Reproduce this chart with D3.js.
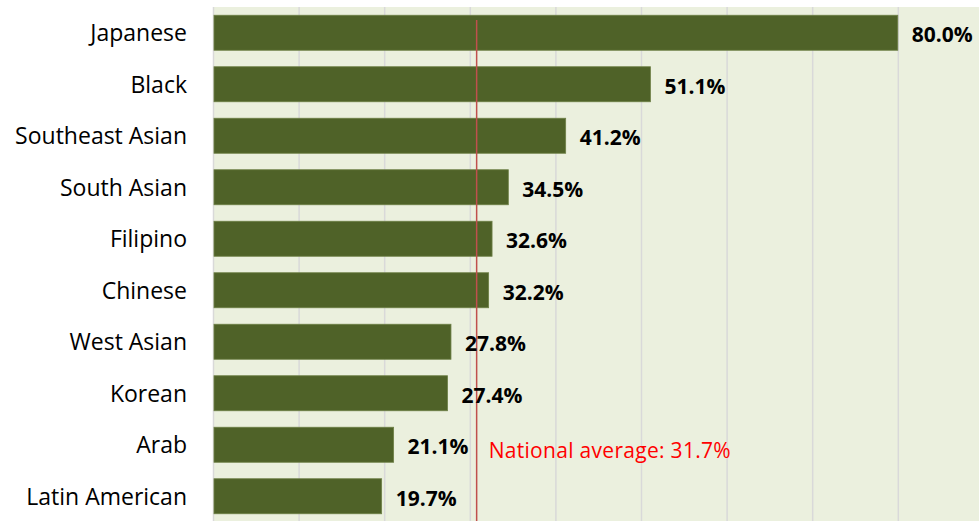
<!DOCTYPE html>
<html>
<head>
<meta charset="utf-8">
<script src="https://cdn.jsdelivr.net/npm/d3@7"></script>
<style>
  body { margin: 0; background: #fff; }
  svg { display: block; font-family: "Open Sans", "Noto Sans", sans-serif; }
</style>
</head>
<body>
<div id="chart"></div>
<script>
const groups = ["Japanese", "Black", "Southeast Asian", "South Asian", "Filipino",
    "Chinese", "West Asian", "Korean", "Arab", "Latin American"];
const shares = [80.0, 51.1, 41.2, 34.5, 32.6, 32.2, 27.8, 27.4, 21.1, 19.7];
const gridTicks = [0, 10, 20, 30, 40, 50, 60, 70, 80, 90];
const nationalAverage = 31.7;
const averageLineAt = 30.8; // where the red line sits in the picture

const width = 979;
const height = 521;
const margin = { top: 7, left: 213 };

const x = d3.scaleLinear()
    .domain([0, 10])
    .range([margin.left, margin.left + 85.6]);

const y = d3.scaleBand()
    .domain(groups)
    .range([margin.top, margin.top + 515])
    .paddingInner(0.32)
    .paddingOuter(0.16);

const svg = d3.select("#chart").append("svg")
    .attr("width", width)
    .attr("height", height);

// plot background
svg.append("rect")
    .attr("x", margin.left)
    .attr("y", margin.top)
    .attr("width", width - margin.left)
    .attr("height", height - margin.top)
    .attr("fill", "#ebf0de");

// vertical gridlines
svg.append("g")
    .selectAll("line")
    .data(gridTicks)
    .join("line")
    .attr("x1", d => x(d) + 0.5)
    .attr("x2", d => x(d) + 0.5)
    .attr("y1", margin.top)
    .attr("y2", height)
    .attr("stroke", "#d9d9d9")
    .attr("stroke-width", 1.5);

// bars
svg.append("g")
    .selectAll("rect")
    .data(shares)
    .join("rect")
    .attr("x", x(0) + 1)
    .attr("y", (d, i) => y(groups[i]))
    .attr("width", d => x(d) - x(0) - 1)
    .attr("height", y.bandwidth())
    .attr("fill", "#4f6228")
    .attr("stroke", "#6e8047")
    .attr("stroke-width", 0.8);

// national average line
svg.append("line")
    .attr("x1", x(averageLineAt))
    .attr("x2", x(averageLineAt))
    .attr("y1", 20)
    .attr("y2", height)
    .attr("stroke", "#c0504d")
    .attr("stroke-width", 1.5);

svg.append("text")
    .attr("x", x(averageLineAt) + 12)
    .attr("y", y("Arab") + y.bandwidth() / 2 + 13)
    .attr("fill", "#ff0000")
    .style("font-size", "21px")
    .style("letter-spacing", "0.3px")
    .text(`National average: ${nationalAverage.toFixed(1)}%`);

// value labels
svg.append("g")
    .selectAll("text")
    .data(shares)
    .join("text")
    .attr("x", d => x(d) + 14)
    .attr("y", (d, i) => y(groups[i]) + y.bandwidth() / 2 + 9.5)
    .style("font-size", "21px")
    .style("font-weight", "bold")
    .attr("fill", "#000")
    .text(d => d.toFixed(1) + "%");

// category labels
svg.append("g")
    .selectAll("text")
    .data(groups)
    .join("text")
    .attr("x", 187)
    .attr("y", d => y(d) + y.bandwidth() / 2 + 8.5)
    .attr("text-anchor", "end")
    .style("font-size", "23px")
    .attr("fill", "#000")
    .text(d => d);
</script>
</body>
</html>
